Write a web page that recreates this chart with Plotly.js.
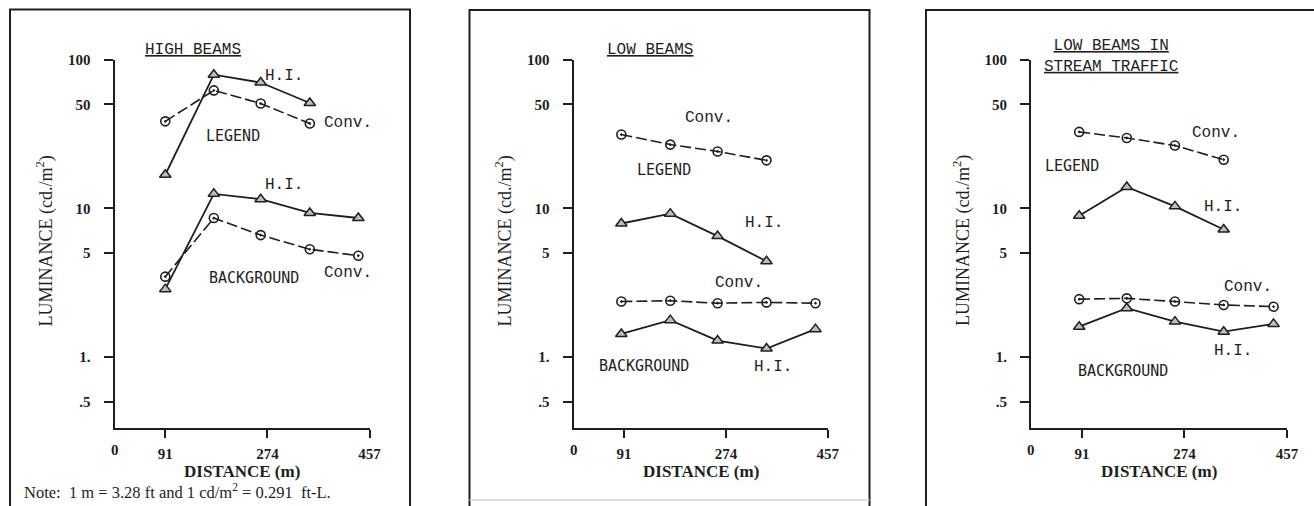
<!DOCTYPE html>
<html>
<head>
<meta charset="utf-8">
<script src="https://cdn.plot.ly/plotly-3.0.1.min.js"></script>
<style>
  html, body { margin: 0; padding: 0; background: #fff; }
  #chart { width: 1314px; height: 506px; }
</style>
</head>
<body>
<div id="chart"></div>
<script>
// Luminance (cd/m^2) of legend and background versus viewing distance (m)
// for high-intensity (H.I.) and conventional (Conv.) headlamps.

// High beams
const hbDist = [91, 178, 262, 350, 437];
const hbLegendHI = [16.8, 79, 70, 51];
const hbLegendConv = [38.4, 62, 50.6, 37.1];
const hbBackHI = [2.86, 12.5, 11.5, 9.3, 8.6];
const hbBackConv = [3.47, 8.6, 6.6, 5.3, 4.8];

// Low beams
const lbDist = [86, 174, 259, 347, 435];
const lbLegendConv = [31.3, 26.8, 24.1, 21.0];
const lbLegendHI = [7.9, 9.2, 6.5, 4.4];
const lbBackConv = [2.36, 2.39, 2.30, 2.33, 2.30];
const lbBackHI = [1.43, 1.77, 1.29, 1.14, 1.54];

// Low beams in stream traffic
const stDist = [86, 171, 257, 344, 433];
const stLegendConv = [32.6, 29.7, 26.4, 21.2];
const stLegendHI = [8.9, 13.9, 10.3, 7.2];
const stBackConv = [2.45, 2.48, 2.36, 2.24, 2.18];
const stBackHI = [1.60, 2.13, 1.73, 1.48, 1.67];

// Axis ticks
const xTickVals = [91, 274, 457];
const xTickText = ['91', '274', '457'];
const yTickVals = [0.5, 1, 5, 10, 50, 100];
const yTickText = ['.5', '1.', '5', '10', '50', '100'];

const panelTitles = [
  'HIGH BEAMS',
  'LOW BEAMS',
  'LOW BEAMS IN<br>STREAM TRAFFIC'
];

const INK = '#1e1e1e';
const W = 1314, H = 506;

function hiTrace(x, y, n) {
  return {
    x: x, y: y, xaxis: 'x' + n, yaxis: 'y' + n,
    type: 'scatter', mode: 'lines+markers', cliponaxis: false,
    line: { color: INK, width: 1.8 },
    marker: { symbol: 'triangle-up', size: 10, color: '#bdbdbd',
              line: { color: INK, width: 1.5 } },
    hoverinfo: 'x+y'
  };
}
function convTrace(x, y, n) {
  return {
    x: x, y: y, xaxis: 'x' + n, yaxis: 'y' + n,
    type: 'scatter', mode: 'lines+markers', cliponaxis: false,
    line: { color: INK, width: 1.6, dash: '11px,4px' },
    marker: { symbol: 'circle-open-dot', size: 9, color: INK,
              line: { color: INK, width: 1.6 } },
    hoverinfo: 'x+y'
  };
}

const data = [
  hiTrace(hbDist.slice(0, 4), hbLegendHI, ''),
  convTrace(hbDist.slice(0, 4), hbLegendConv, ''),
  hiTrace(hbDist, hbBackHI, ''),
  convTrace(hbDist, hbBackConv, ''),

  convTrace(lbDist.slice(0, 4), lbLegendConv, 2),
  hiTrace(lbDist.slice(0, 4), lbLegendHI, 2),
  convTrace(lbDist, lbBackConv, 2),
  hiTrace(lbDist, lbBackHI, 2),

  convTrace(stDist.slice(0, 4), stLegendConv, 3),
  hiTrace(stDist.slice(0, 4), stLegendHI, 3),
  convTrace(stDist, stBackConv, 3),
  hiTrace(stDist, stBackHI, 3)
];

// Plot areas in pixels (left, right) for the three panels
const xPix = [[114.5, 369.5], [573.5, 827.7], [1031, 1287]];
const yPix = [59.5, 428];
const yDomain = [(H - yPix[1]) / H, (H - yPix[0]) / H];

const tickFont = { family: 'Liberation Serif', size: 15, color: INK, weight: 'bold' };

function xAxis(i) {
  return {
    domain: [xPix[i][0] / W, xPix[i][1] / W],
    anchor: i === 0 ? 'y' : 'y' + (i + 1),
    range: [0, 457],
    showgrid: false, zeroline: false,
    showline: true, linecolor: INK, linewidth: 2,
    ticks: 'outside', ticklen: 8, tickwidth: 2, tickcolor: INK,
    tickvals: xTickVals, ticktext: xTickText,
    tickfont: tickFont, ticklabelstandoff: 3
  };
}
function yAxis(i) {
  return {
    domain: yDomain,
    anchor: i === 0 ? 'x' : 'x' + (i + 1),
    type: 'log', range: [-0.477, 2],
    showgrid: false, zeroline: false,
    showline: true, linecolor: INK, linewidth: 2,
    ticks: 'outside', ticklen: 9, tickwidth: 2, tickcolor: INK,
    tickvals: yTickVals, ticktext: yTickText,
    tickfont: tickFont, ticklabelstandoff: 10
  };
}

const monoFont = { family: 'Liberation Mono', size: 16, color: INK };
const sansMono = { family: 'DejaVu Sans Mono', size: 15, color: INK };

function label(text, n, x, logY, font) {
  return {
    text: text, xref: 'x' + n, yref: 'y' + n, x: x, y: logY,
    showarrow: false, font: font || monoFont, xanchor: 'center', yanchor: 'middle'
  };
}

const annotations = [];
// axis titles and the zero label on every panel
for (let i = 0; i < 3; i++) {
  const cx = (xPix[i][0] + xPix[i][1]) / 2;
  annotations.push({
    text: 'DISTANCE (m)', xref: 'paper', yref: 'paper',
    x: cx / W, y: (H - 471.5) / H, showarrow: false,
    font: { family: 'Liberation Serif', size: 17, color: INK, weight: 'bold' },
    xanchor: 'center', yanchor: 'middle'
  });
  annotations.push({
    text: 'LUMINANCE (cd./m<sup>2</sup>)', xref: 'paper', yref: 'paper',
    x: (xPix[i][0] - 69) / W, y: (H - 241) / H, showarrow: false, textangle: -90,
    font: { family: 'Liberation Serif', size: 18, color: INK },
    xanchor: 'center', yanchor: 'middle'
  });
  annotations.push({
    text: '0', xref: i === 0 ? 'x' : 'x' + (i + 1), yref: 'paper',
    x: 0, y: (H - 450) / H, showarrow: false,
    font: tickFont, xanchor: 'center', yanchor: 'middle'
  });
}
// underlined panel titles
annotations.push({
  text: '<u>' + panelTitles[0] + '</u>', xref: 'x', yref: 'paper',
  x: 141, y: (H - 50) / H, showarrow: false, font: monoFont,
  xanchor: 'center', yanchor: 'middle'
});
annotations.push({
  text: '<u>' + panelTitles[1] + '</u>', xref: 'x2', yref: 'paper',
  x: 137, y: (H - 50) / H, showarrow: false, font: monoFont,
  xanchor: 'center', yanchor: 'middle'
});
annotations.push({
  text: panelTitles[2].split('<br>').map(s => '<u>' + s + '</u>').join('<br>'),
  xref: 'x3', yref: 'paper',
  x: 143, y: (H - 56) / H, showarrow: false, font: monoFont,
  xanchor: 'center', yanchor: 'middle'
});

// series labels inside the plots (log axes take log10 positions)
const L = Math.log10;
annotations.push(
  label('H.I.', '', 304, L(77)),
  label('Conv.', '', 419, L(37.5)),
  label('LEGEND', '', 213, L(30.4), sansMono),
  label('H.I.', '', 304, L(14.4)),
  label('BACKGROUND', '', 250, L(3.39), sansMono),
  label('Conv.', '', 419, L(3.7)),

  label('Conv.', 2, 243, L(40.5)),
  label('LEGEND', 2, 162, L(18.2), sansMono),
  label('H.I.', 2, 342, L(8.0)),
  label('Conv.', 2, 297, L(3.14)),
  label('BACKGROUND', 2, 126, L(0.87), sansMono),
  label('H.I.', 2, 359, L(0.86)),

  label('Conv.', 3, 331, L(32.1)),
  label('LEGEND', 3, 73, L(19.1), sansMono),
  label('H.I.', 3, 342, L(10.2)),
  label('Conv.', 3, 388, L(2.97)),
  label('H.I.', 3, 361, L(1.09)),
  label('BACKGROUND', 3, 165, L(0.81), sansMono)
);

annotations.push({
  text: 'Note:  1 m = 3.28 ft and 1 cd/m<sup>2</sup> = 0.291  ft-L.',
  xref: 'paper', yref: 'paper', x: 22 / W, y: (H - 504) / H,
  showarrow: false, xanchor: 'left', yanchor: 'bottom',
  font: { family: 'Liberation Serif', size: 16.5, color: INK }
});

// panel frames
const frame = { color: INK, width: 2 };
const shapes = [
  { type: 'rect', xref: 'paper', yref: 'paper', x0: 10 / W, x1: 410 / W,
    y0: -0.05, y1: (H - 9.5) / H, line: frame },
  { type: 'rect', xref: 'paper', yref: 'paper', x0: 469.5 / W, x1: 869.5 / W,
    y0: -0.05, y1: (H - 10) / H, line: frame },
  { type: 'line', xref: 'paper', yref: 'paper', x0: 469.5 / W, x1: 869.5 / W,
    y0: (H - 500) / H, y1: (H - 500) / H, line: { color: '#d6d6d6', width: 1.5 } },
  { type: 'rect', xref: 'paper', yref: 'paper', x0: 926 / W, x1: 1.05,
    y0: -0.05, y1: (H - 10) / H, line: frame }
];

const layout = {
  width: W, height: H,
  margin: { l: 0, r: 0, t: 0, b: 0 },
  paper_bgcolor: '#ffffff', plot_bgcolor: 'rgba(0,0,0,0)',
  showlegend: false,
  xaxis: xAxis(0), yaxis: yAxis(0),
  xaxis2: xAxis(1), yaxis2: yAxis(1),
  xaxis3: xAxis(2), yaxis3: yAxis(2),
  annotations: annotations,
  shapes: shapes
};

Plotly.newPlot('chart', data, layout, { displayModeBar: false, staticPlot: true });
</script>
</body>
</html>
